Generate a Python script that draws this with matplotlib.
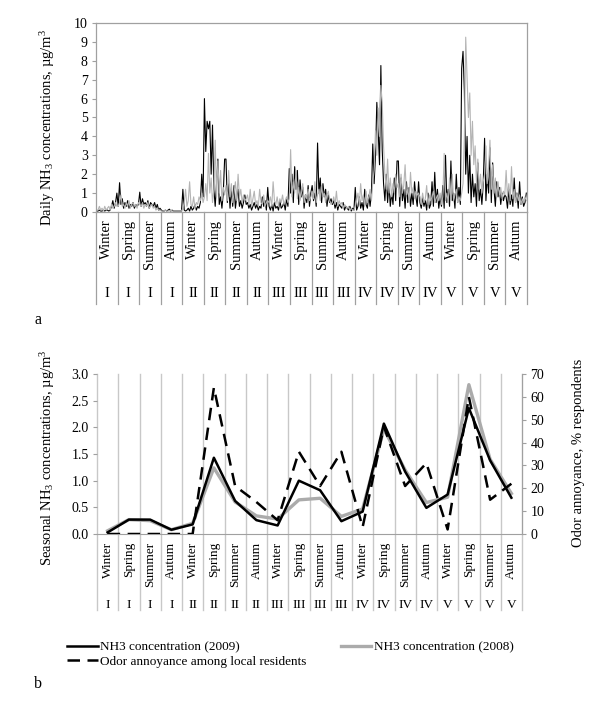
import numpy as np
import matplotlib
matplotlib.use("Agg")
import matplotlib.pyplot as plt
import matplotlib.transforms as mtransforms

plt.rcParams['font.family'] = ['Liberation Serif', 'DejaVu Serif']
plt.rcParams['mathtext.fontset'] = 'custom'
plt.rcParams['mathtext.rm'] = 'Liberation Serif'
plt.rcParams['mathtext.it'] = 'Liberation Serif:italic'

seasons = ['Winter', 'Spring', 'Summer', 'Autum'] * 5
sites = ['I'] * 4 + ['II'] * 4 + ['III'] * 4 + ['IV'] * 4 + ['V'] * 4

# (a) daily NH3, 16 readings per season
daily_2009_I = [0.05, 0.05, 0.1, 0.05, 0.05, 0.1, 0.05, 0.1, 0.1, 0.05, 0.1, 0.3, 0.6, 0.2, 0.5, 1.0,
                0.3, 1.55, 0.4, 0.7, 0.2, 0.5, 0.3, 0.6, 0.2, 0.4, 0.3, 0.5, 0.2, 0.4, 0.3, 0.4,
                1.05, 0.3, 0.7, 0.4, 0.5, 0.3, 0.6, 0.2, 0.5, 0.4, 0.3, 0.5, 0.2, 0.4, 0.1, 0.2,
                0.1, 0.05, 0.05, 0.1, 0.05, 0.1, 0.15, 0.05, 0.1, 0.05, 0.05, 0.05, 0.05, 0.05, 0.05, 0.05]
daily_2009_II = [1.2, 0.1, 0.05, 0.1, 0.2, 0.05, 0.3, 0.1, 0.2, 0.4, 0.1, 0.3, 0.2, 0.5, 2.0, 0.8,
                 6.0, 3.2, 4.8, 4.4, 4.8, 2.0, 4.6, 1.2, 0.3, 1.5, 2.8, 0.4, 0.8, 0.2, 1.0, 2.8,
                 2.8, 0.5, 1.5, 0.2, 1.2, 0.3, 1.4, 0.2, 0.8, 1.2, 0.3, 0.6, 0.2, 0.5, 0.9, 0.4,
                 0.5, 0.2, 0.4, 0.1, 0.3, 0.5, 0.2, 0.4, 0.1, 0.3, 0.2, 0.8, 0.3, 0.6, 0.1, 1.3]
daily_2009_III = [0.3, 0.1, 0.4, 0.05, 0.5, 0.2, 0.3, 0.1, 0.6, 0.2, 0.3, 0.5, 0.1, 0.7, 0.3, 2.3,
                  1.0, 2.0, 0.5, 2.4, 1.2, 2.2, 0.4, 1.7, 0.8, 1.3, 0.2, 0.9, 0.5, 1.4, 0.3, 1.0,
                  1.4, 0.6, 1.0, 0.3, 3.65, 1.0, 1.8, 0.5, 1.5, 0.8, 1.2, 0.3, 0.9, 0.5, 0.7, 0.4,
                  0.6, 0.2, 0.5, 0.1, 0.4, 0.3, 0.2, 0.5, 0.1, 0.3, 0.2, 0.1, 0.3, 0.05, 0.2, 0.1]
daily_2009_IV = [1.3, 0.1, 0.3, 0.8, 0.2, 0.5, 0.1, 1.2, 0.4, 0.2, 0.9, 0.3, 1.0, 3.6, 1.5, 3.0,
                 5.8, 4.3, 2.5, 7.75, 3.3, 1.5, 0.6, 2.0, 0.5, 1.5, 0.3, 1.0, 0.4, 1.8, 0.6, 2.7,
                 2.7, 0.3, 1.8, 0.6, 1.2, 0.2, 1.6, 0.5, 1.3, 0.3, 1.0, 0.4, 1.6, 0.8, 0.3, 1.6,
                 0.5, 0.2, 0.8, 0.3, 0.6, 0.1, 1.0, 0.2, 0.4, 1.6, 0.3, 2.1, 0.5, 1.2, 0.2, 0.8]
daily_2009_V = [0.3, 1.4, 0.2, 3.0, 0.5, 1.2, 0.3, 2.7, 0.6, 1.0, 0.2, 2.0, 0.5, 1.3, 0.4, 7.6,
                8.5, 6.4, 2.0, 4.0, 1.0, 3.0, 0.5, 2.0, 0.8, 1.5, 0.3, 2.6, 0.6, 1.2, 0.4, 1.5,
                3.9, 0.6, 2.0, 1.0, 3.4, 0.5, 2.6, 1.2, 0.3, 1.6, 0.8, 1.3, 0.4, 1.0, 0.6, 0.9,
                0.8, 0.2, 1.2, 0.4, 0.9, 0.3, 1.8, 0.5, 1.0, 0.2, 1.6, 0.4, 0.8, 0.3, 0.5, 1.0]

daily_2008_I = [0.1, 0.1, 0.3, 0.1, 0.2, 0.05, 0.3, 0.1, 0.2, 0.3, 0.1, 0.4, 0.2, 0.3, 0.5, 0.3,
                0.3, 0.5, 0.9, 0.3, 0.4, 0.2, 0.5, 0.3, 0.6, 0.2, 0.4, 0.5, 0.3, 0.4, 0.2, 0.5,
                0.4, 0.3, 0.5, 0.2, 0.4, 0.3, 0.5, 0.2, 0.3, 0.4, 0.2, 0.3, 0.1, 0.2, 0.1, 0.1,
                0.05, 0.05, 0.05, 0.1, 0.05, 0.05, 0.05, 0.1, 0.05, 0.05, 0.05, 0.05, 0.05, 0.05, 0.05, 0.05]
daily_2008_II = [0.2, 0.5, 1.2, 0.3, 0.6, 1.6, 0.4, 0.3, 0.8, 0.2, 0.5, 0.4, 0.8, 0.6, 1.0, 0.5,
                 0.8, 1.5, 0.6, 3.1, 1.0, 1.8, 0.5, 1.2, 3.8, 0.8, 2.7, 1.0, 2.2, 0.6, 1.3, 0.9,
                 1.4, 0.6, 2.2, 0.8, 1.5, 0.5, 1.0, 1.6, 0.6, 2.0, 0.8, 1.2, 0.5, 0.9, 0.6, 0.7,
                 0.9, 0.4, 1.2, 0.3, 0.7, 1.1, 0.4, 0.6, 0.3, 1.2, 0.5, 0.4, 0.9, 0.3, 0.5, 0.6]
daily_2008_III = [0.5, 0.8, 0.3, 1.6, 0.6, 0.4, 0.8, 0.3, 0.7, 0.5, 0.9, 0.4, 0.6, 0.8, 0.5, 0.7,
                  3.3, 0.8, 1.6, 1.0, 2.2, 0.7, 1.3, 0.6, 1.0, 1.5, 0.5, 0.9, 0.7, 1.2, 0.6, 0.8,
                  1.1, 0.7, 1.6, 0.5, 0.9, 1.2, 0.6, 1.4, 0.8, 1.0, 0.5, 0.9, 1.1, 0.6, 0.4, 0.5,
                  0.8, 0.4, 1.1, 0.3, 0.6, 0.4, 0.5, 0.2, 0.4, 0.3, 0.2, 0.3, 0.1, 0.2, 0.1, 0.1]
daily_2008_IV = [0.3, 0.6, 1.0, 0.4, 1.5, 0.6, 0.9, 0.3, 1.1, 0.5, 0.8, 1.2, 0.6, 1.6, 2.2, 4.3,
                 3.0, 5.5, 4.0, 6.7, 5.8, 3.5, 2.0, 1.2, 2.8, 1.0, 1.8, 0.8, 1.5, 1.0, 2.0, 1.3,
                 1.5, 0.8, 2.0, 1.0, 1.4, 2.5, 0.9, 1.2, 0.6, 2.1, 1.0, 1.3, 0.7, 1.1, 0.9, 1.0,
                 0.8, 0.4, 1.0, 0.5, 0.7, 1.4, 0.4, 0.9, 0.6, 0.8, 1.1, 0.5, 0.7, 0.9, 0.6, 1.0]
daily_2008_V = [0.4, 0.8, 3.1, 0.6, 1.0, 0.5, 1.8, 0.7, 2.0, 0.6, 0.9, 1.2, 0.5, 0.8, 0.6, 1.0,
                1.5, 4.0, 9.25, 7.2, 5.0, 6.3, 3.0, 4.8, 2.5, 3.5, 1.5, 2.8, 1.2, 2.0, 1.0, 1.6,
                2.0, 3.5, 1.5, 2.4, 3.8, 1.2, 2.5, 1.0, 1.8, 0.8, 1.6, 0.9, 1.3, 0.7, 1.1, 0.9,
                2.2, 0.8, 1.5, 0.6, 2.4, 0.7, 1.2, 0.5, 1.0, 0.6, 0.9, 0.4, 0.7, 0.5, 0.8, 0.6]

# (b) seasonal means and odor annoyance
seasonal_2009 = [0.03, 0.27, 0.27, 0.08, 0.18, 1.43, 0.62, 0.26, 0.16, 1.0,
                 0.82, 0.24, 0.42, 2.07, 1.17, 0.49, 0.74, 2.36, 1.38, 0.68]
seasonal_2008 = [0.06, 0.27, 0.25, 0.08, 0.2, 1.24, 0.6, 0.34, 0.28, 0.64,
                 0.67, 0.33, 0.47, 1.97, 1.2, 0.59, 0.69, 2.8, 1.4, 0.76]
odor_pct = [0, 0, 0, 0, 0, 64, 21, 14, 6, 36,
            21, 36, 3, 47, 21, 31, 2, 60, 15, 22]

daily_2009 = daily_2009_I + daily_2009_II + daily_2009_III + daily_2009_IV + daily_2009_V
daily_2008 = daily_2008_I + daily_2008_II + daily_2008_III + daily_2008_IV + daily_2008_V
n_per = 16
xd = (np.arange(len(daily_2009)) + 0.5) / n_per

W, H = 600, 707
fig = plt.figure(figsize=(6, 7.07), dpi=100)
sep = '#a0a0a0'
light = '#c8c8c8'

def fx(px):
    return px / W

def fy(py):
    return 1 - py / H

# ---- panel a
axa = fig.add_axes([fx(96), fy(212), fx(527) - fx(96), fy(23) - fy(212)])
axa.plot(xd, daily_2009, color='black', lw=0.8)
axa.plot(xd, daily_2008, color='#b4b4b4', lw=0.8)
axa.set_xlim(0, 20)
axa.set_ylim(0, 10)
axa.set_yticks(range(0, 11))
axa.set_xticks([])
axa.tick_params(axis='y', labelsize=10, color=sep, length=3, pad=3)
for s in axa.spines.values():
    s.set_color(sep)
    s.set_linewidth(0.9)
axa.set_ylabel('Daily NH$_3$ concentrations, µg/m$^3$', fontsize=10.5)
axa.yaxis.set_label_coords(-0.09, 0.45)

tra = mtransforms.blended_transform_factory(axa.transData, axa.transAxes)
for b in range(21):
    axa.plot([b, b], [0, -0.487], transform=tra, color=sep, lw=0.9, clip_on=False)
for i in range(20):
    axa.text(i + 0.5, -0.04, seasons[i], transform=tra, rotation=90, ha='center', va='top', fontsize=10.5)
    axa.text(i + 0.5, -0.43, sites[i], transform=tra, ha='center', va='center', fontsize=10.5)
fig.text(fx(38), fy(320), 'a', fontsize=11.5, ha='center', va='center')

# ---- panel b
axb = fig.add_axes([fx(97), fy(534), fx(522) - fx(97), fy(374) - fy(534)])
xs = np.arange(20)
l08, = axb.plot(xs, seasonal_2008, color='#ababab', lw=2.4, label='NH3 concentration (2008)')
l09, = axb.plot(xs, seasonal_2009, color='black', lw=1.8, label='NH3 concentration (2009)')
axb.set_xlim(-0.5, 19.5)
axb.set_ylim(0, 3)
axb.set_yticks(np.arange(0, 3.01, 0.5))
axb.set_yticklabels([f'{v:.1f}' for v in np.arange(0, 3.01, 0.5)])
axb.set_xticks([])
axb.tick_params(axis='y', labelsize=10, color=sep, length=3, pad=3)
for k in ['top', 'left', 'right']:
    axb.spines[k].set_visible(False)
axb.spines['bottom'].set_color(sep)
axb.set_ylabel('Seasonal NH$_3$ concentrations, µg/m$^3$', fontsize=10.5)
axb.yaxis.set_label_coords(-0.094, 0.48)

axb2 = axb.twinx()
lod, = axb2.plot(xs, odor_pct, color='black', lw=1.8, ls=(0, (5, 3)),
                 label='Odor annoyance among local residents')
axb2.set_ylim(0, 70)
axb2.set_yticks(range(0, 71, 10))
axb2.tick_params(axis='y', labelsize=10, color=sep, length=3, pad=3)
for k in ['top', 'left', 'bottom']:
    axb2.spines[k].set_visible(False)
axb2.spines['right'].set_color(sep)
axb2.set_ylabel('Odor annoyance, % respondents', fontsize=10.5)
axb2.yaxis.set_label_coords(1.117, 0.51)

trb = mtransforms.blended_transform_factory(axb.transData, axb.transAxes)
for b in range(21):
    axb.plot([b - 0.5, b - 0.5], [1, -0.475], transform=trb, color=light, lw=1.0, clip_on=False, zorder=0)
for i in range(20):
    axb.text(i, -0.05, seasons[i], transform=trb, rotation=90, ha='center', va='top', fontsize=9.5)
    axb.text(i, -0.445, sites[i], transform=trb, ha='center', va='center', fontsize=9.5)

fig.legend(handles=[l09, lod, l08], ncol=2, loc='upper left', bbox_to_anchor=(fx(62), fy(636)),
           frameon=False, fontsize=9.5, handlelength=2.3, handletextpad=0.2,
           columnspacing=2.6, labelspacing=0.15, borderaxespad=0)
fig.text(fx(38), fy(684), 'b', fontsize=11.5, ha='center', va='center')

fig.savefig('out.png', dpi=100)
